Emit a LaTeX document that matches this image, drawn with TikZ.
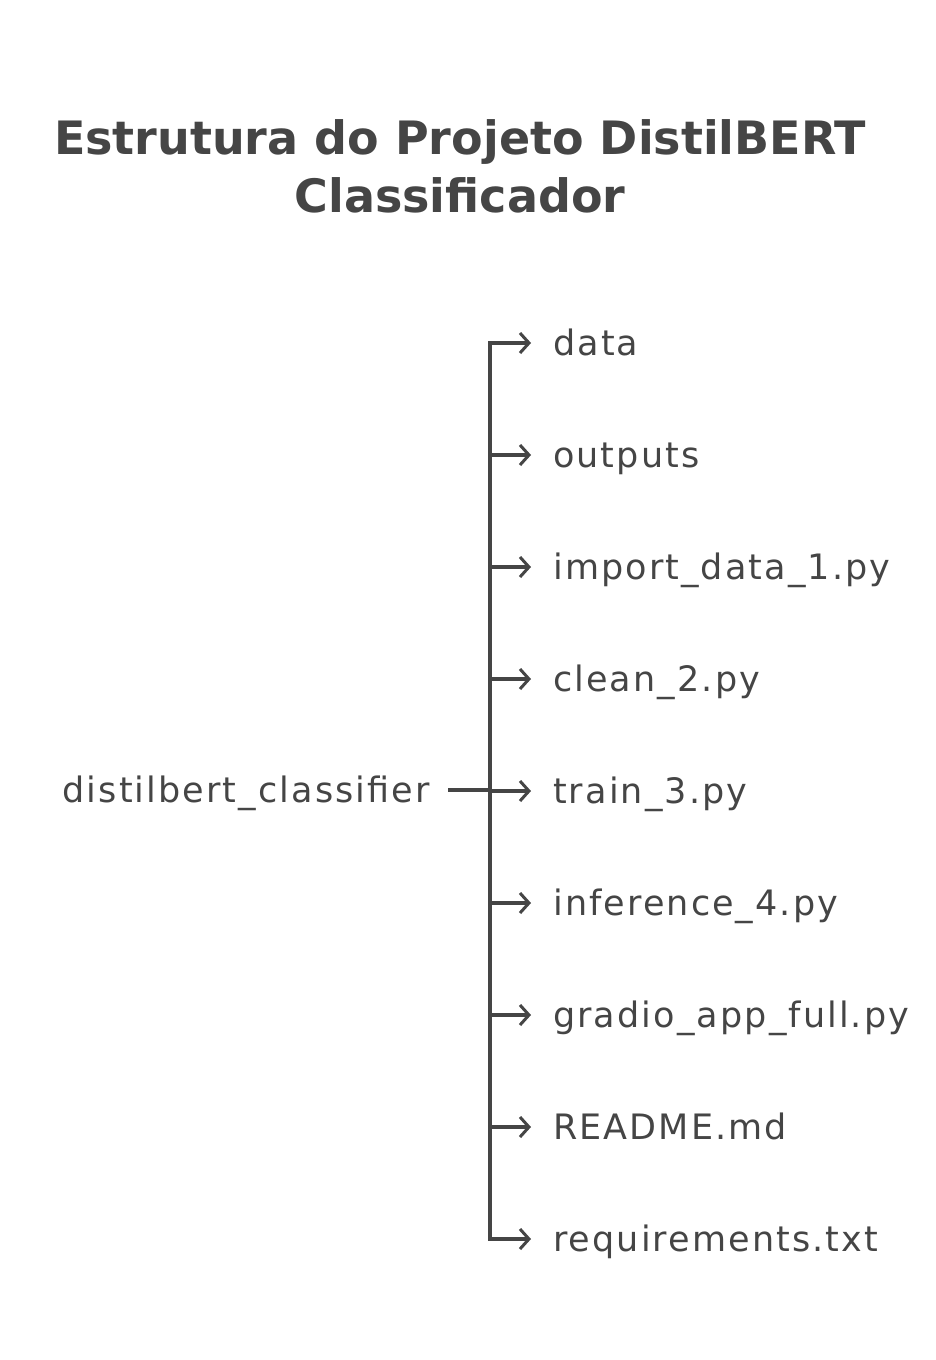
\documentclass[tikz,border=0pt]{standalone}
\usepackage{fontspec}
\setmainfont{DejaVu Sans}
\usetikzlibrary{arrows.meta}

\definecolor{inkgrey}{HTML}{454545}

\tikzset{
  branch/.style={draw=inkgrey,line width=3.6pt,
    -{Straight Barb[length=9pt,width=20pt,line width=3pt]},shorten >=22pt},
  entry/.style={anchor=base west,inner sep=0pt,text=inkgrey,
    font=\fontsize{35}{42}\selectfont\addfontfeatures{LetterSpace=6}},
  heading/.style={text=inkgrey,font=\fontsize{46}{58}\selectfont\bfseries,align=center}
}

\begin{document}
\begin{tikzpicture}[x=1pt,y=-1pt]
\useasboundingbox (0,0) rectangle (936,1360);
% title
\node[heading] (title) at (460,166) {Estrutura do Projeto DistilBERT\\Classificador};
% root folder
\node[entry,anchor=base east] (root) at (430,802) {distilbert\_classifier};
\coordinate (trunk) at (490,790);
% contents
\foreach \i/\name in {1/data,2/outputs,3/import\_data\_1.py,4/clean\_2.py,5/train\_3.py,
    6/inference\_4.py,7/gradio\_app\_full.py,8/README.md,9/requirements.txt}{
  \node[entry] (c\i) at (553,{343+112*(\i-1)+12}) {\name};
  \draw[branch,shorten <=18pt] ([yshift=12pt]root.base east) -- (trunk) |- ([yshift=12pt]c\i.base west);
}
\end{tikzpicture}
\end{document}
